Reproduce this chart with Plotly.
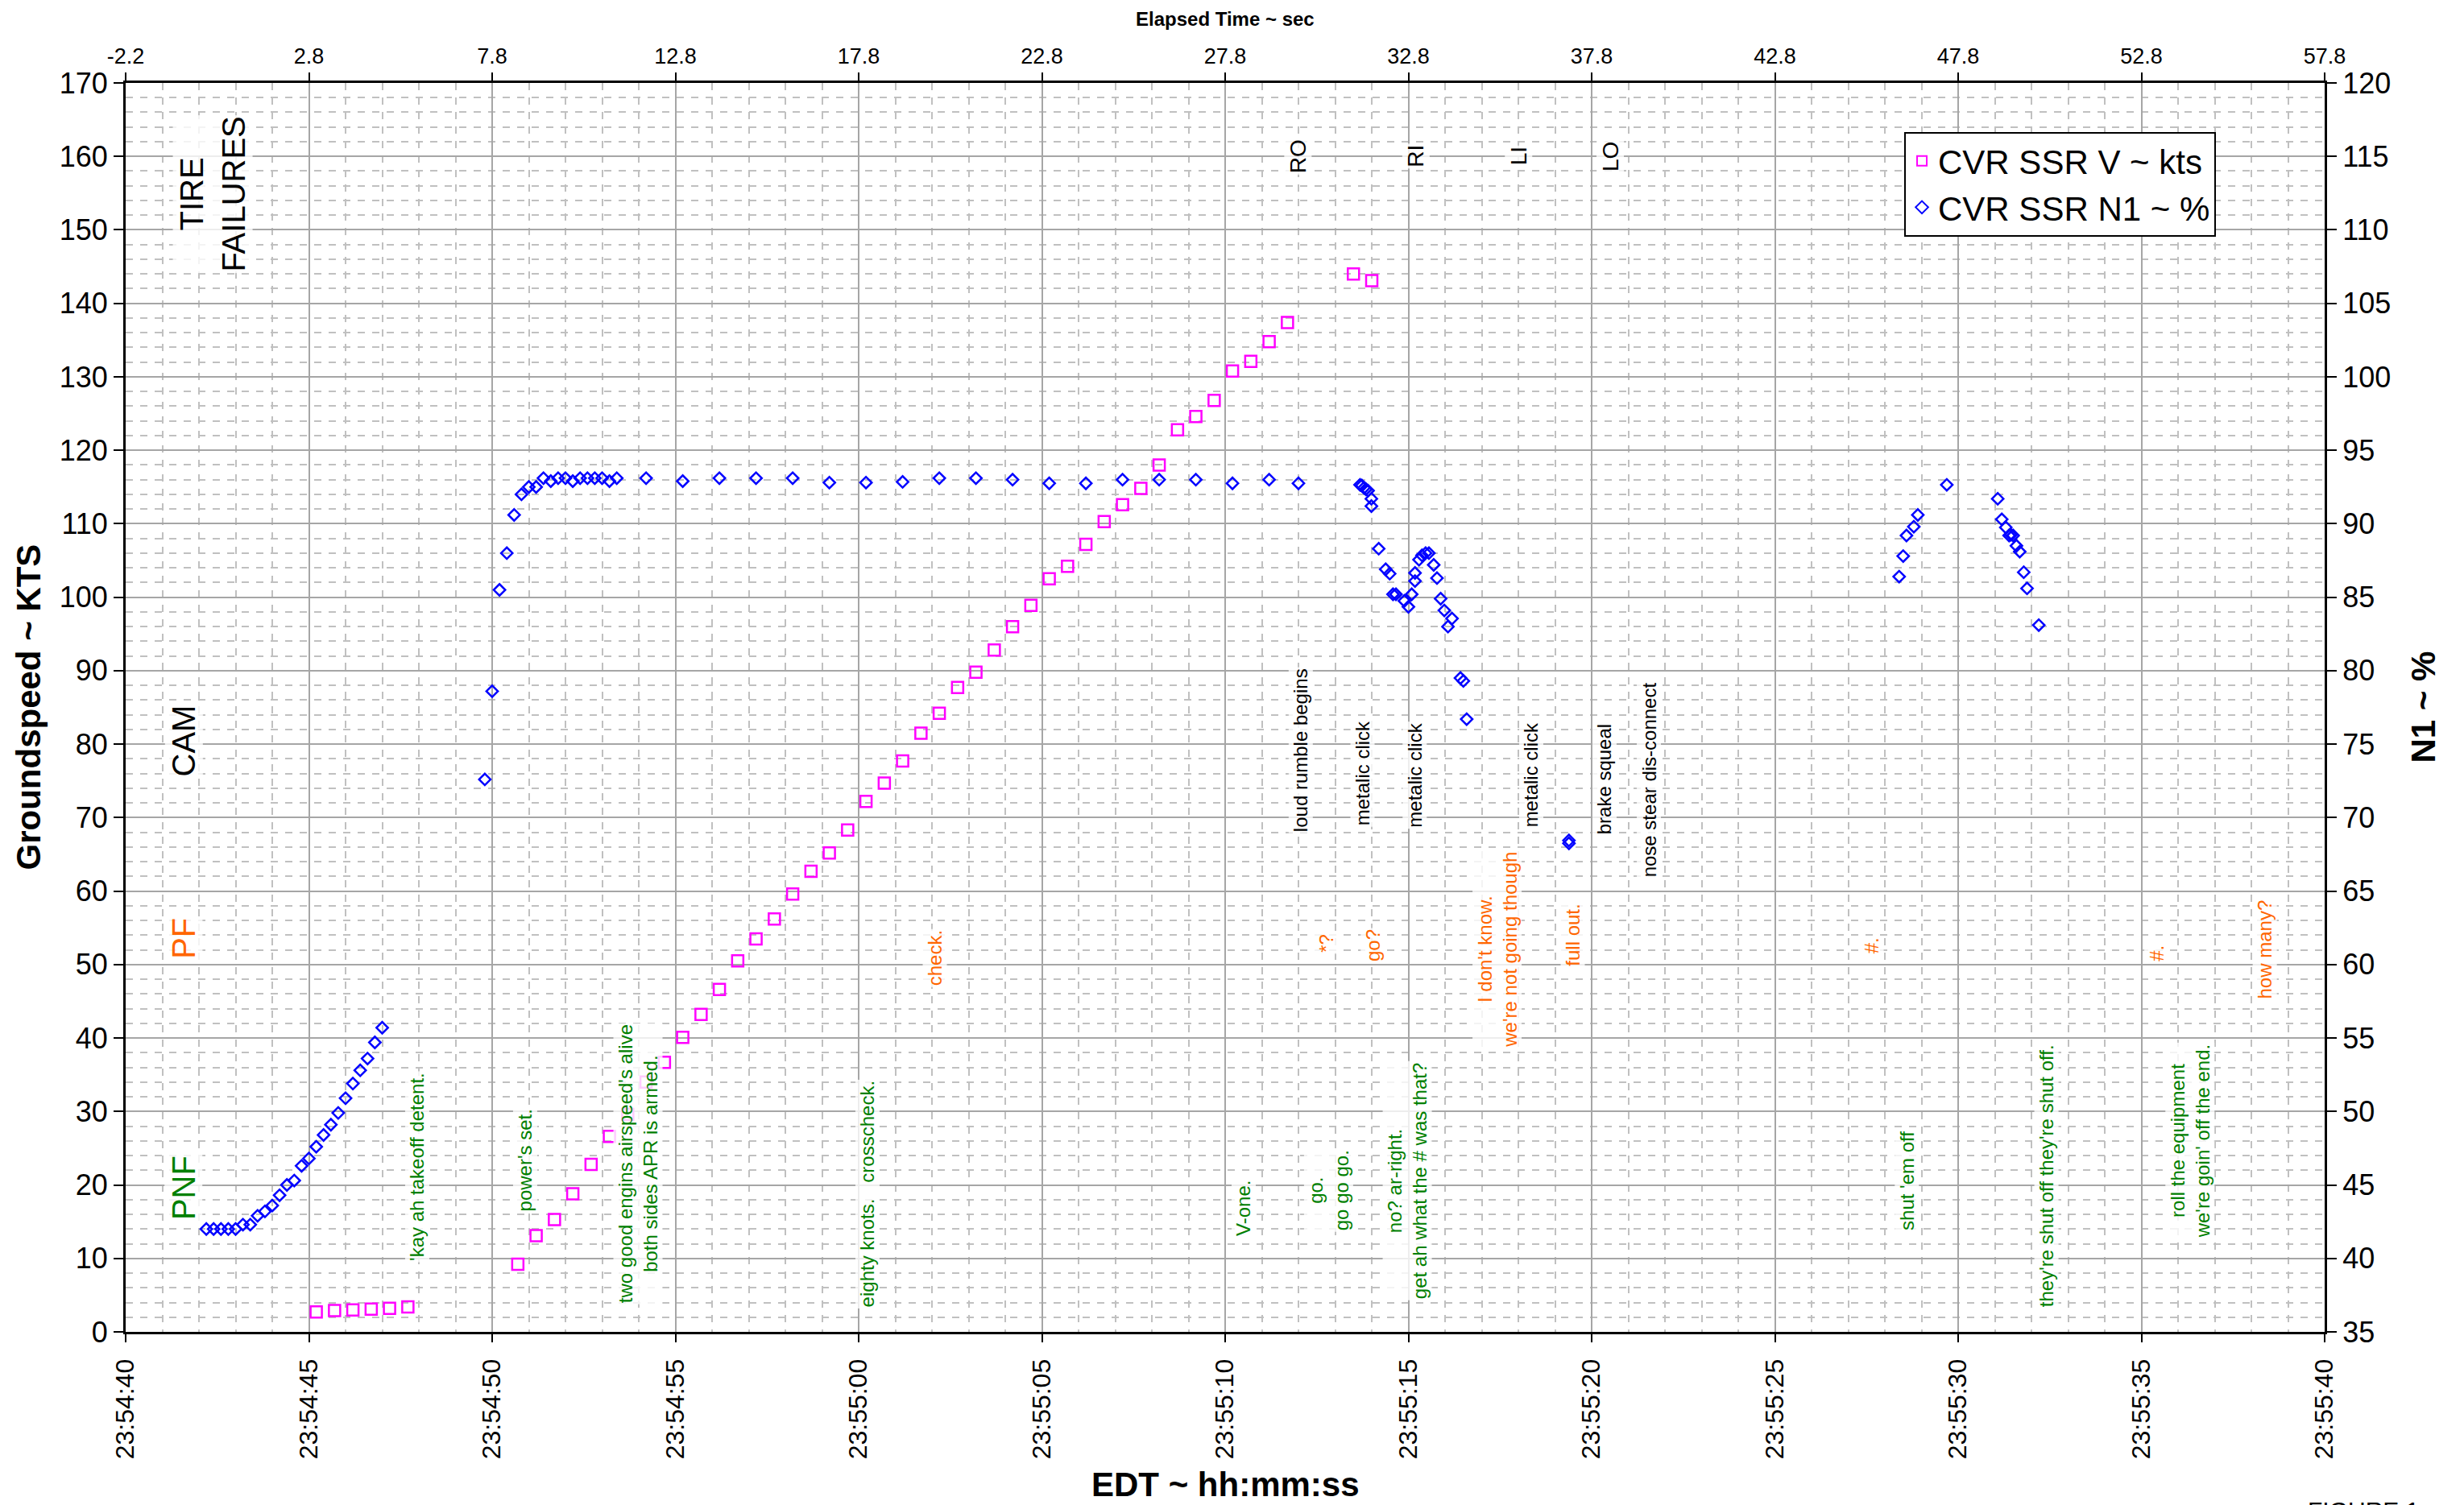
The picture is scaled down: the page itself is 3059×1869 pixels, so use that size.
import plotly.graph_objects as go

# ---------------- data (time = seconds after 23:54:40 EDT) ----------------
speed_t = [5.2, 5.7, 6.2, 6.7, 7.2, 7.7,
           10.7, 11.2, 11.7, 12.2, 12.7, 13.2, 13.7, 14.2, 14.7, 15.2, 15.7, 16.2,
           16.7, 17.2, 17.7, 18.2, 18.7, 19.2, 19.7, 20.2, 20.7, 21.2, 21.7, 22.2,
           22.7, 23.2, 23.7, 24.2, 24.7, 25.2, 25.7, 26.2, 26.7, 27.2, 27.7, 28.2,
           28.7, 29.2, 29.7, 30.2, 30.7, 31.2, 31.7, 33.5, 34.0]
speed_kts = [2.7, 2.9, 3.0, 3.1, 3.2, 3.4,
             9.2, 13.1, 15.3, 18.8, 22.8, 26.6, 29.6, 34.0, 36.7, 40.1, 43.2, 46.6,
             50.5, 53.5, 56.2, 59.6, 62.7, 65.2, 68.3, 72.2, 74.7, 77.7, 81.5, 84.2,
             87.7, 89.8, 92.8, 96.0, 98.9, 102.5, 104.2, 107.2, 110.3, 112.6, 114.8, 118.0,
             122.8, 124.6, 126.8, 130.8, 132.1, 134.8, 137.4, 144.0, 143.1]

n1_early_t = [2.2, 2.4, 2.6, 2.8, 3.0, 3.2, 3.4, 3.6, 3.8, 4.0, 4.2, 4.4, 4.6,
              4.8, 5.0, 5.2, 5.4, 5.6, 5.8, 6.0, 6.2, 6.4, 6.6, 6.8, 7.0]
n1_early = [42.0, 42.0, 42.0, 42.0, 42.0, 42.3, 42.3, 42.9, 43.2, 43.6, 44.3, 45.0, 45.3,
            46.3, 46.8, 47.6, 48.4, 49.1, 49.9, 50.9, 51.9, 52.8, 53.6, 54.7, 55.7]

n1_run_t = [9.8, 10.0, 10.2, 10.4, 10.6, 10.8, 11.0, 11.2, 11.4, 11.6, 11.8, 12.0, 12.2,
            12.4, 12.6, 12.8, 13.0, 13.2, 13.4, 14.2, 15.2, 16.2, 17.2, 18.2, 19.2, 20.2,
            21.2, 22.2, 23.2, 24.2, 25.2, 26.2, 27.2, 28.2, 29.2, 30.2, 31.2, 32.0]
n1_run = [72.6, 78.6, 85.5, 88.0, 90.6, 92.0, 92.5, 92.5, 93.1, 92.9, 93.1, 93.1, 92.9,
          93.1, 93.1, 93.1, 93.1, 92.9, 93.1, 93.1, 92.9, 93.1, 93.1, 93.1, 92.8, 92.8,
          92.85, 93.1, 93.1, 93.0, 92.75, 92.75, 93.0, 93.0, 93.0, 92.75, 93.0, 92.75]

n1_drop_t = [33.68, 33.73, 33.79, 33.84, 33.9, 33.99, 33.99, 34.19, 34.38, 34.49, 34.58,
             34.66, 34.89, 35.0, 35.09, 35.18, 35.18, 35.29, 35.37, 35.47, 35.56, 35.69,
             35.78, 35.88, 35.98, 36.08, 36.19, 36.42, 36.5, 36.59, 39.38, 39.38]
n1_drop = [92.65, 92.6, 92.45, 92.35, 92.25, 91.7, 91.2, 88.3, 86.9, 86.6, 85.2,
           85.2, 84.75, 84.35, 85.2, 86.1, 86.65, 87.55, 87.85, 88.0, 88.0, 87.2,
           86.3, 84.9, 84.1, 83.0, 83.55, 79.5, 79.3, 76.7, 68.45, 68.25]

n1_late_t = [48.39, 48.5, 48.59, 48.79, 48.9, 49.69, 51.08, 51.19, 51.3, 51.39, 51.44,
             51.5, 51.59, 51.68, 51.79, 51.88, 52.2]
n1_late = [86.4, 87.8, 89.2, 89.8, 90.6, 92.65, 91.7, 90.3, 89.75, 89.2, 89.25,
           89.2, 88.5, 88.1, 86.7, 85.6, 83.1]

edt_tick_pos = [0, 5, 10, 15, 20, 25, 30, 35, 40, 45, 50, 55, 60]
edt_tick_text = ["23:54:40", "23:54:45", "23:54:50", "23:54:55", "23:55:00", "23:55:05",
                 "23:55:10", "23:55:15", "23:55:20", "23:55:25", "23:55:30", "23:55:35",
                 "23:55:40"]
elapsed_ticks = [-2.2, 2.8, 7.8, 12.8, 17.8, 22.8, 27.8, 32.8, 37.8, 42.8, 47.8, 52.8, 57.8]

# annotations: (text, time, kts)
cam_notes = [
    ("loud rumble begins", 32.06, 79.2),
    ("metalic click", 33.75, 76.0),
    ("metalic click", 35.17, 75.8),
    ("metalic click", 38.35, 75.8),
    ("brake squeal", 40.36, 75.2),
    ("nose stear dis-connect", 41.57, 75.2),
]
pf_notes = [
    ("check.", 22.08, 50.9),
    ("*?", 32.76, 52.9),
    ("go?", 34.02, 52.6),
    ("I don't know.<br>we're not going though", 37.41, 52.0),
    ("full out.", 39.48, 54.0),
    ("#.", 47.63, 52.6),
    ("#.", 55.4, 51.5),
    ("how many?", 58.37, 52.1),
]
pnf_notes = [
    ("'kay ah takeoff detent.", 7.96, 22.5),
    ("power's set.", 10.9, 23.4),
    ("two good engins airspeed's alive<br>both sides APR is armed.", 13.98, 22.9),
    ("eighty knots.\u00a0\u00a0 crosscheck.", 20.24, 18.8),
    ("V-one.", 30.51, 16.8),
    ("go.<br>go go go.", 32.82, 19.3),
    ("no? ar-right.<br>get ah what the # was that?", 34.97, 20.6),
    ("shut 'em off", 48.59, 20.6),
    ("they're shut off they're shut off.", 52.41, 21.2),
    ("roll the equipment<br>we're goin' off the end.", 56.32, 26.0),
]
wheel_notes = [("RO", 31.98, 160.0), ("RI", 35.2, 160.0), ("LI", 38.0, 160.0), ("LO", 40.5, 160.0)]
big_notes = [
    ("TIRE<br>FAILURES", 2.37, 154.9, "black"),
    ("CAM", 1.58, 80.5, "black"),
    ("PF", 1.58, 53.6, "#FF6600"),
    ("PNF", 1.58, 19.6, "#008000"),
]

# ---------------- figure ----------------
FONT = "Liberation Sans, Arial, sans-serif"
GREEN = "#008000"
ORANGE = "#FF6600"

fig = go.Figure()

fig.add_trace(go.Scatter(
    x=speed_t, y=speed_kts, mode="markers", name="CVR SSR V ~ kts",
    marker=dict(symbol="square-open", size=14, color="#FF00FF", line=dict(width=2.5, color="#FF00FF")),
    xaxis="x", yaxis="y"))

n1_t = n1_early_t + n1_run_t + n1_drop_t + n1_late_t
n1_v = n1_early + n1_run + n1_drop + n1_late
fig.add_trace(go.Scatter(
    x=n1_t, y=n1_v, mode="markers", name="CVR SSR N1 ~ %",
    marker=dict(symbol="diamond-open", size=11, color="#0000FF", line=dict(width=2.5, color="#0000FF")),
    xaxis="x", yaxis="y2"))

# invisible trace to activate the elapsed-time axis
fig.add_trace(go.Scatter(x=[elapsed_ticks[0], elapsed_ticks[-1]], y=[None, None], mode="markers",
                         showlegend=False, hoverinfo="skip", xaxis="x2", yaxis="y"))

annos = []
NOTE_BG = "rgba(255,255,255,0.8)"


def note(text, t, k, color, size):
    annos.append(dict(text=text, x=t, y=k, xref="x", yref="y", showarrow=False,
                      textangle=-90, font=dict(family=FONT, size=size, color=color),
                      align="center", bgcolor=NOTE_BG, borderpad=1))


for txt, t, k in cam_notes:
    note(txt, t, k, "black", 24)
for txt, t, k in pf_notes:
    note(txt, t, k, ORANGE, 24)
for txt, t, k in pnf_notes:
    note(txt, t, k, GREEN, 24)
for txt, t, k in wheel_notes:
    note(txt, t, k, "black", 28)
for txt, t, k, c in big_notes:
    note(txt, t, k, c, 40)

# axis titles
annos.append(dict(text="<b>Groundspeed ~ KTS</b>", xref="paper", yref="paper", x=0, y=0.5,
                  xshift=-121, xanchor="center", yanchor="middle", showarrow=False, textangle=-90,
                  font=dict(family=FONT, size=42, color="black")))
annos.append(dict(text="<b>N1 ~ %</b>", xref="paper", yref="paper", x=1, y=0.5,
                  xshift=122, xanchor="center", yanchor="middle", showarrow=False, textangle=-90,
                  font=dict(family=FONT, size=42, color="black")))
annos.append(dict(text="<b>EDT ~ hh:mm:ss</b>", xref="paper", yref="paper", x=0.5, y=0,
                  yshift=-189, xanchor="center", yanchor="middle", showarrow=False,
                  font=dict(family=FONT, size=42, color="black")))
annos.append(dict(text="<b>Elapsed Time ~ sec</b>", xref="paper", yref="paper", x=0.5, y=1,
                  yshift=80, xanchor="center", yanchor="middle", showarrow=False,
                  font=dict(family=FONT, size=24, color="black")))
annos.append(dict(text="FIGURE 1", xref="paper", yref="paper", x=1, y=0, xshift=-23,
                  yshift=-203, xanchor="left", yanchor="top", showarrow=False,
                  font=dict(family=FONT, size=30, color="black")))

MAJOR = "#a6a6a6"
MINOR = "#c0c0c0"

fig.update_layout(
    width=3059, height=1869, autosize=False,
    margin=dict(l=156, r=173, t=103, b=215, pad=0),
    paper_bgcolor="white", plot_bgcolor="white",
    font=dict(family=FONT, color="black"),
    showlegend=True,
    legend=dict(x=0.8088, y=0.9607, xanchor="left", yanchor="top",
                bgcolor="white", bordercolor="black", borderwidth=2,
                font=dict(family=FONT, size=42, color="black"),
                itemsizing="constant", tracegroupgap=0),
    annotations=annos,
    xaxis=dict(range=[0, 60], tickmode="array", tickvals=edt_tick_pos, ticktext=edt_tick_text,
               tickangle=-90, tickfont=dict(family=FONT, size=32, color="black"),
               showgrid=True, gridcolor=MAJOR, gridwidth=1.5,
               minor=dict(dtick=1, tick0=0, showgrid=True, gridcolor=MINOR, griddash="dash",
                          gridwidth=1.5, ticks=""),
               showline=True, linecolor="black", linewidth=3, ticks="outside",
               ticklen=10, tickwidth=2, tickcolor="black", zeroline=False,
               ticklabelstandoff=8),
    xaxis2=dict(range=[-2.2, 57.8], overlaying="x", side="top", anchor="y",
                tickmode="array", tickvals=elapsed_ticks,
                ticktext=[f"{v:.1f}" for v in elapsed_ticks],
                tickfont=dict(family=FONT, size=27, color="black"),
                showgrid=False, showline=True, linecolor="black", linewidth=3,
                ticks="outside", ticklen=10, tickwidth=2, tickcolor="black", zeroline=False),
    yaxis=dict(range=[0, 170], tickmode="linear", tick0=0, dtick=10,
               tickfont=dict(family=FONT, size=36, color="black"),
               showgrid=True, gridcolor=MAJOR, gridwidth=1.5,
               minor=dict(dtick=2, tick0=0, showgrid=True, gridcolor=MINOR, griddash="dash",
                          gridwidth=1.5, ticks=""),
               showline=True, linecolor="black", linewidth=3, ticks="outside",
               ticklen=12, tickwidth=2, tickcolor="black", zeroline=False),
    yaxis2=dict(range=[35, 120], overlaying="y", side="right", anchor="x",
                tickmode="linear", tick0=35, dtick=5,
                tickfont=dict(family=FONT, size=36, color="black"),
                showgrid=False, showline=True, linecolor="black", linewidth=3,
                ticks="outside", ticklen=12, tickwidth=2, tickcolor="black", zeroline=False),
)

fig.write_html("out.html")
